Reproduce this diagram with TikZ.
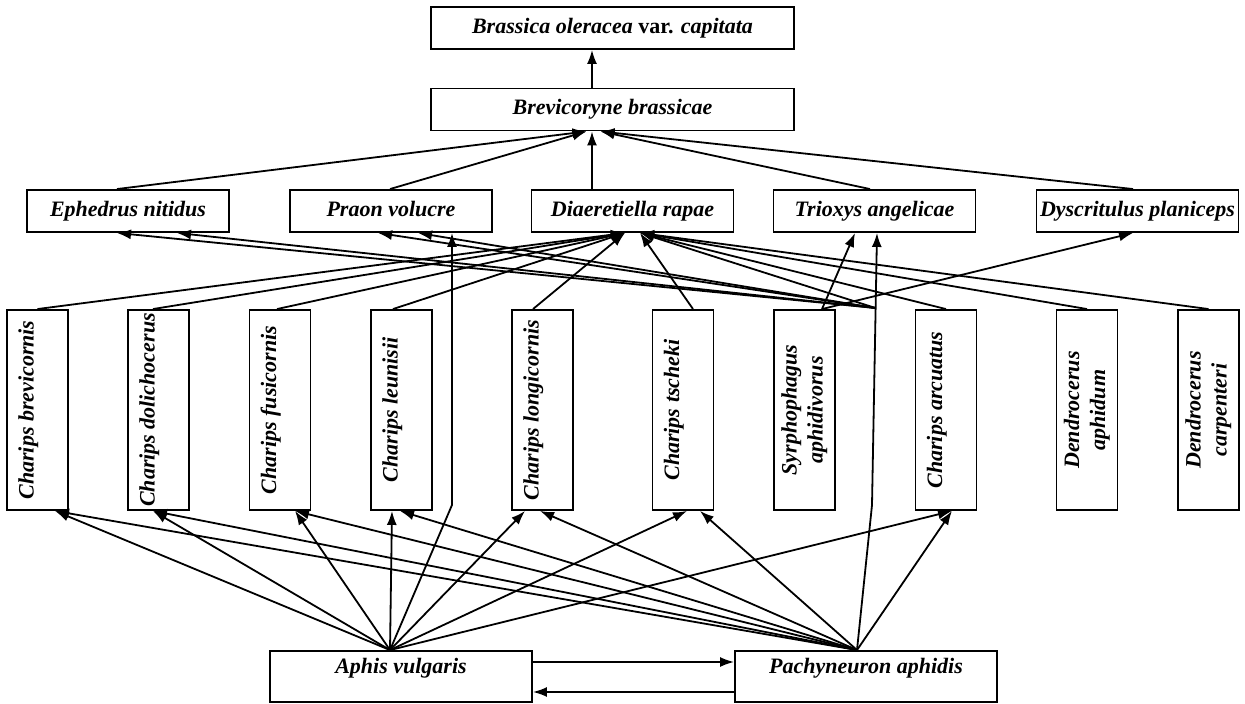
\documentclass[tikz,border=0pt]{standalone}
\usepackage{fontspec}
\setmainfont{Liberation Serif}
\usetikzlibrary{calc,arrows.meta}
\newcommand\fsz{\fontsize{22}{26}\selectfont\bfseries\itshape}
\newcommand\vtext[1]{\rotatebox{90}{\begin{tabular}{@{}c@{}}#1\end{tabular}}}
\begin{document}
\begin{tikzpicture}[x=1pt,y=-1pt,
  box/.style={draw, line width=1.9pt, inner sep=0pt, font=\fsz, align=center},
  hbox/.style={box, minimum width=202pt, minimum height=42pt, text height=15pt, text depth=5pt},
  wbox/.style={box, minimum width=363pt, minimum height=42pt, text height=15pt, text depth=5pt},
  vbox/.style={box, minimum width=61pt, minimum height=200pt},
  bbox/.style={box, minimum width=262pt, minimum height=51pt},
  arr/.style={line width=1.8pt, -{Latex[length=14pt,width=10pt]}}]
\useasboundingbox (0,0) rectangle (1245,704);
% nodes
\node[wbox] (bra) at (612.5,28) {Brassica oleracea {\upshape var.} capitata};
\node[wbox] (brev) at (612.5,109.5) {Brevicoryne brassicae};
\node[hbox] (eph) at (128,211) {Ephedrus nitidus};
\node[hbox] (pra) at (391,211) {Praon volucre};
\node[hbox] (dia) at (632.5,211) {Diaeretiella rapae};
\node[hbox] (tri) at (874.5,211) {Trioxys angelicae};
\node[hbox] (dys) at (1137.5,211) {Dyscritulus planiceps};
\node[vbox] (cb) at (37.5,410) {\vtext{Charips brevicornis\\[-8pt]\strut}};
\node[vbox] (cd) at (158.5,410) {\vtext{Charips dolichocerus\\[-8pt]\strut}};
\node[vbox] (cf) at (280,410) {\vtext{Charips fusicornis\\[-8pt]\strut}};
\node[vbox] (cl) at (401.5,410) {\vtext{Charips leunisii\\[-8pt]\strut}};
\node[vbox] (clo) at (542.5,410) {\vtext{Charips longicornis\\[-8pt]\strut}};
\node[vbox] (ct) at (683,410) {\vtext{Charips tscheki\\[-8pt]\strut}};
\node[vbox] (sy) at (804.5,410) {\vtext{Syrphophagus\\aphidivorus}};
\node[vbox] (ca) at (946,410) {\vtext{Charips arcuatus\\[-8pt]\strut}};
\node[vbox] (da) at (1087,410) {\vtext{Dendrocerus\\aphidum}};
\node[vbox] (dc) at (1208.5,410) {\vtext{Dendrocerus\\carpenteri}};
\node[bbox] (aph) at (401,676.5) {\begin{tabular}{@{}c@{}}Aphis vulgaris\\[-10pt]\strut\end{tabular}};
\node[bbox] (pac) at (866,676.5) {\begin{tabular}{@{}c@{}}Pachyneuron aphidis\\[-10pt]\strut\end{tabular}};
% ports
\coordinate (bvL) at ($(brev.south)+(-26,0)$);
\coordinate (bvC) at ($(brev.south)+(-20.5,0)$);
\coordinate (bvR) at ($(brev.south)+(-12,0)$);
\coordinate (diaL) at ($(dia.south)+(-7.5,0)$);
\coordinate (diaR) at ($(dia.south)+(7.5,0)$);
\coordinate (A) at ($(aph.north)+(-11,0)$);
\coordinate (P) at ($(pac.north)+(-9,0)$);
\coordinate (abend) at (452,505);
\coordinate (pbend) at (872,505);
\coordinate (hub) at (875.5,308);
% plant
\draw[arr] ($(brev.north)+(-20.5,0)$) -- ($(bra.south)+(-20.5,0)$);
% primary parasitoids -> aphid
\draw[arr] ($(eph.north)+(-11,0)$) -- (bvL);
\draw[arr] ($(pra.north)+(-1,0)$) -- (bvL);
\draw[arr] ($(dia.north)+(-40.5,0)$) -- (bvC);
\draw[arr] ($(tri.north)+(-4.5,0)$) -- (bvR);
\draw[arr] ($(dys.north)+(-4.5,0)$) -- (bvR);
% hyperparasitoids -> Diaeretiella
\draw[arr] (cb.north) -- (diaL);
\draw[arr] ($(cd.north)+(-5.5,0)$) -- (diaL);
\draw[arr] ($(cf.north)+(-3,0)$) -- (diaL);
\draw[arr] ($(cl.north)+(-8.5,0)$) -- (diaL);
\draw[arr] ($(clo.north)+(-9.5,0)$) -- (diaL);
\draw[arr] ($(ct.north)+(10,0)$) -- (diaR);
\draw[arr] (ca.north) -- (diaR);
\draw[arr] (da.north) -- (diaR);
\draw[arr] (dc.north) -- (diaR);
% hub lines
\draw[arr] (hub) -- (diaR);
\draw[arr] (hub) -- ($(eph.south)+(-11,0)$);
\draw[arr] (hub) -- ($(eph.south)+(49,0)$);
\draw[arr] (hub) -- ($(pra.south)+(-13,0)$);
\draw[arr] (hub) -- ($(pra.south)+(27,0)$);
% Syrphophagus
\draw[arr] ($(sy.north)+(17.5,0)$) -- ($(tri.south)+(-19.5,0)$);
\draw[arr] ($(sy.north)+(17.5,0)$) -- ($(dys.south)+(-4.5,0)$);
% Pachyneuron vertical to Trioxys
\draw[arr] (P) -- (pbend) -- ($(tri.south)+(2.5,0)$);
% Aphis vulgaris
\draw[arr] (A) -- (abend) -- ($(pra.south)+(61,0)$);
\draw[arr] (A) -- ($(cb.south)+(17.5,0)$);
\draw[arr] (A) -- ($(cd.south)+(-5.5,0)$);
\draw[arr] (A) -- ($(cf.south)+(15,0)$);
\draw[arr] (A) -- ($(cl.south)+(-9.5,0)$);
\draw[arr] (A) -- ($(clo.south)+(-17.5,0)$);
\draw[arr] (A) -- ($(ct.south)+(4,0)$);
\draw[arr] (A) -- ($(ca.south)+(6,0)$);
% Pachyneuron
\draw[arr] (P) -- ($(cb.south)+(17.5,0)$);
\draw[arr] (P) -- ($(cd.south)+(-5.5,0)$);
\draw[arr] (P) -- ($(cf.south)+(15,0)$);
\draw[arr] (P) -- ($(cl.south)+(-1.5,0)$);
\draw[arr] (P) -- ($(clo.south)+(-2.5,0)$);
\draw[arr] (P) -- ($(ct.south)+(17,0)$);
\draw[arr] (P) -- ($(ca.south)+(6,0)$);
% between bottom boxes
\draw[arr] ($(aph.east)+(0,-14.5)$) -- ($(pac.west)+(0,-14.5)$);
\draw[arr] ($(pac.west)+(0,15.5)$) -- ($(aph.east)+(0,15.5)$);
\end{tikzpicture}
\end{document}
